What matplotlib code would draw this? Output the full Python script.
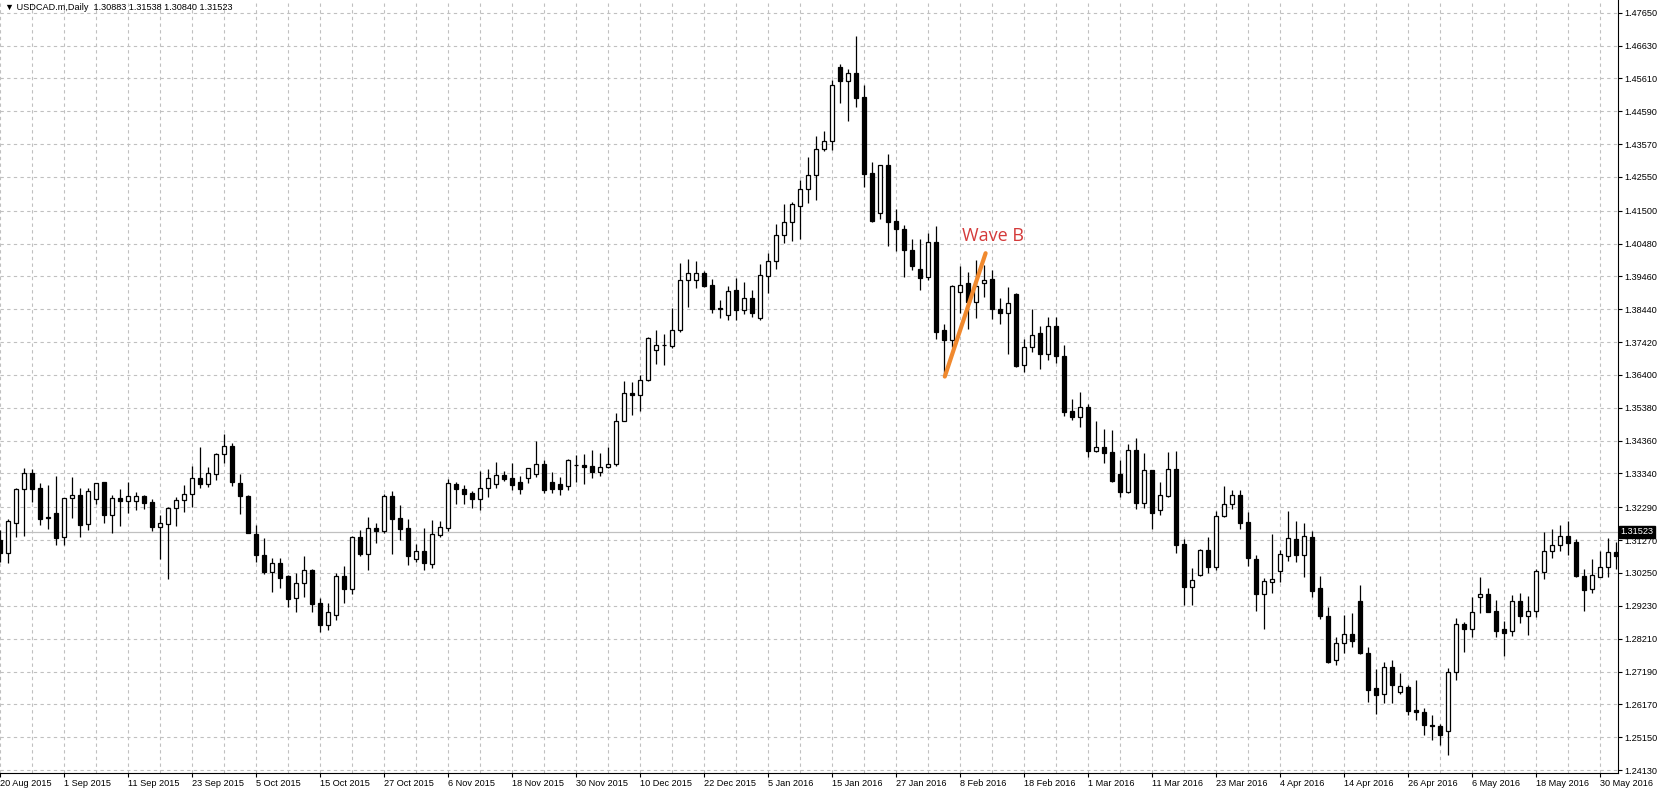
import matplotlib.pyplot as plt
import numpy as np

plt.rcParams['font.family'] = ['Liberation Sans', 'DejaVu Sans']

# USDCAD daily bars, one entry per bar
opens = [
    1.3127, 1.3086, 1.3179, 1.3285, 1.3335, 1.3289, 1.3199, 1.3210, 1.3136, 1.3257,
    1.3266, 1.3176, 1.3254, 1.3307, 1.3204, 1.3257, 1.3248, 1.3248, 1.3263, 1.3244,
    1.3169, 1.3178, 1.3226, 1.3251, 1.3269, 1.3319, 1.3300, 1.3332, 1.3394, 1.3419,
    1.3304, 1.3263, 1.3145, 1.3081, 1.3029, 1.3055, 1.3015, 1.2948, 1.2993, 1.3034,
    1.2933, 1.2863, 1.2894, 1.3015, 1.2976, 1.3137, 1.3085, 1.3165, 1.3156, 1.3264,
    1.3196, 1.3165, 1.3069, 1.3092, 1.3054, 1.3144, 1.3165, 1.3301, 1.3285, 1.3272,
    1.3256, 1.3288, 1.3301, 1.3328, 1.3320, 1.3308, 1.3320, 1.3332, 1.3363, 1.3308,
    1.3301, 1.3295, 1.3359, 1.3361, 1.3356, 1.3340, 1.3353, 1.3364, 1.3496, 1.3583,
    1.3577, 1.3624, 1.3717, 1.3732, 1.3731, 1.3779, 1.3934, 1.3934, 1.3956, 1.3918,
    1.3848, 1.3825, 1.3903, 1.3842, 1.3879, 1.3817, 1.3948, 1.3994, 1.4074, 1.4114,
    1.4164, 1.4217, 1.4260, 1.4341, 1.4365, 1.4596, 1.4554, 1.4577, 1.4502, 1.4266,
    1.4142, 1.4291, 1.4117, 1.4092, 1.4028, 1.3968, 1.3945, 1.4052, 1.3779, 1.3749,
    1.3897, 1.3925, 1.3867, 1.3925, 1.3937, 1.3844, 1.3831, 1.3892, 1.3670, 1.3726,
    1.3771, 1.3704, 1.3792, 1.3699, 1.3528, 1.3508, 1.3540, 1.3405, 1.3415, 1.3401,
    1.3332, 1.3277, 1.3406, 1.3243, 1.3345, 1.3221, 1.3264, 1.3348, 1.3114, 1.2980,
    1.3019, 1.3095, 1.3042, 1.3203, 1.3238, 1.3266, 1.3183, 1.3068, 1.2961, 1.2996,
    1.3030, 1.3077, 1.3130, 1.3082, 1.3137, 1.2978, 1.2890, 1.2754, 1.2808, 1.2834,
    1.2937, 1.2775, 1.2667, 1.2648, 1.2732, 1.2654, 1.2670, 1.2599, 1.2592, 1.2552,
    1.2549, 1.2534, 1.2718, 1.2865, 1.2850, 1.2949, 1.2959, 1.2907, 1.2850, 1.2844,
    1.2937, 1.2890, 1.2906, 1.3029, 1.3092, 1.3111, 1.3140, 1.3121, 1.3017, 1.2974,
    1.3013, 1.3044, 1.3089,
]
highs = [
    1.3158, 1.3192, 1.3290, 1.3351, 1.3347, 1.3304, 1.3297, 1.3326, 1.3257, 1.3322,
    1.3288, 1.3288, 1.3305, 1.3307, 1.3266, 1.3286, 1.3308, 1.3277, 1.3268, 1.3254,
    1.3204, 1.3229, 1.3262, 1.3297, 1.3356, 1.3416, 1.3353, 1.3397, 1.3458, 1.3428,
    1.3332, 1.3266, 1.3173, 1.3133, 1.3070, 1.3071, 1.3018, 1.3024, 1.3078, 1.3036,
    1.2947, 1.2931, 1.3026, 1.3047, 1.3140, 1.3158, 1.3199, 1.3181, 1.3269, 1.3281,
    1.3236, 1.3193, 1.3115, 1.3165, 1.3189, 1.3185, 1.3317, 1.3308, 1.3297, 1.3281,
    1.3342, 1.3347, 1.3370, 1.3342, 1.3367, 1.3326, 1.3352, 1.3435, 1.3376, 1.3339,
    1.3323, 1.3378, 1.3391, 1.3395, 1.3407, 1.3397, 1.3416, 1.3521, 1.3621, 1.3618,
    1.3640, 1.3757, 1.3780, 1.3768, 1.3848, 1.3989, 1.3999, 1.3994, 1.3964, 1.3938,
    1.3873, 1.3917, 1.3942, 1.3929, 1.3904, 1.3984, 1.4019, 1.4109, 1.4171, 1.4176,
    1.4246, 1.4318, 1.4382, 1.4398, 1.4556, 1.4607, 1.4591, 1.4693, 1.4541, 1.4301,
    1.4291, 1.4325, 1.4154, 1.4107, 1.4061, 1.4061, 1.4080, 1.4102, 1.3798, 1.3918,
    1.3978, 1.3960, 1.3996, 1.3981, 1.3966, 1.3878, 1.3912, 1.3895, 1.3752, 1.3846,
    1.3792, 1.3821, 1.3821, 1.3733, 1.3565, 1.3586, 1.3549, 1.3496, 1.3471, 1.3468,
    1.3376, 1.3426, 1.3444, 1.3398, 1.3345, 1.3308, 1.3402, 1.3404, 1.3129, 1.3039,
    1.3098, 1.3137, 1.3217, 1.3294, 1.3283, 1.3283, 1.3214, 1.3082, 1.3008, 1.3146,
    1.3096, 1.3217, 1.3186, 1.3181, 1.3155, 1.3016, 1.2919, 1.2825, 1.2895, 1.2901,
    1.2988, 1.2794, 1.2726, 1.2749, 1.2754, 1.2715, 1.2678, 1.2693, 1.2605, 1.2583,
    1.2555, 1.2729, 1.2884, 1.2872, 1.2949, 1.3012, 1.2977, 1.2940, 1.2876, 1.2957,
    1.2962, 1.2953, 1.3037, 1.3151, 1.3162, 1.3174, 1.3186, 1.3129, 1.3036, 1.3067,
    1.3092, 1.3133, 1.3121,
]
lows = [
    1.3059, 1.3057, 1.3138, 1.3141, 1.3246, 1.3174, 1.3162, 1.3113, 1.3113, 1.3197,
    1.3136, 1.3159, 1.3239, 1.3181, 1.3150, 1.3172, 1.3212, 1.3221, 1.3225, 1.3156,
    1.3069, 1.3007, 1.3172, 1.3215, 1.3231, 1.3288, 1.3293, 1.3313, 1.3368, 1.3296,
    1.3209, 1.3148, 1.3060, 1.3022, 1.2966, 1.2977, 1.2919, 1.2903, 1.2950, 1.2903,
    1.2841, 1.2847, 1.2878, 1.2933, 1.2961, 1.3078, 1.3034, 1.3117, 1.3150, 1.3084,
    1.3128, 1.3050, 1.3060, 1.3035, 1.3041, 1.3138, 1.3154, 1.3240, 1.3239, 1.3228,
    1.3221, 1.3262, 1.3288, 1.3311, 1.3283, 1.3270, 1.3305, 1.3324, 1.3273, 1.3273,
    1.3267, 1.3283, 1.3308, 1.3301, 1.3320, 1.3326, 1.3350, 1.3358, 1.3496, 1.3515,
    1.3529, 1.3621, 1.3675, 1.3672, 1.3725, 1.3774, 1.3852, 1.3911, 1.3914, 1.3833,
    1.3816, 1.3811, 1.3811, 1.3828, 1.3821, 1.3811, 1.3895, 1.3970, 1.4049, 1.4057,
    1.4063, 1.4175, 1.4184, 1.4334, 1.4339, 1.4485, 1.4429, 1.4473, 1.4224, 1.4114,
    1.4125, 1.4041, 1.4026, 1.3945, 1.3965, 1.3903, 1.3935, 1.3752, 1.3634, 1.3728,
    1.3833, 1.3783, 1.3818, 1.3881, 1.3813, 1.3798, 1.3704, 1.3665, 1.3650, 1.3712,
    1.3660, 1.3686, 1.3678, 1.3513, 1.3500, 1.3479, 1.3384, 1.3401, 1.3367, 1.3309,
    1.3260, 1.3273, 1.3225, 1.3227, 1.3162, 1.3205, 1.3260, 1.3088, 1.2925, 1.2925,
    1.3016, 1.3024, 1.3034, 1.3200, 1.3223, 1.3162, 1.3046, 1.2907, 1.2851, 1.2962,
    1.2998, 1.3063, 1.3060, 1.3013, 1.2949, 1.2881, 1.2745, 1.2740, 1.2777, 1.2794,
    1.2774, 1.2625, 1.2587, 1.2622, 1.2620, 1.2648, 1.2583, 1.2567, 1.2522, 1.2506,
    1.2491, 1.2460, 1.2694, 1.2780, 1.2827, 1.2902, 1.2903, 1.2827, 1.2768, 1.2830,
    1.2871, 1.2833, 1.2889, 1.3007, 1.3072, 1.3094, 1.3082, 1.3011, 1.2907, 1.2963,
    1.3011, 1.3014, 1.3037,
]
closes = [
    1.3087, 1.3185, 1.3287, 1.3335, 1.3287, 1.3193, 1.3195, 1.3134, 1.3257, 1.3266,
    1.3175, 1.3279, 1.3304, 1.3206, 1.3257, 1.3248, 1.3263, 1.3263, 1.3243, 1.3169,
    1.3179, 1.3226, 1.3251, 1.3269, 1.3319, 1.3300, 1.3335, 1.3394, 1.3419, 1.3307,
    1.3263, 1.3150, 1.3082, 1.3028, 1.3055, 1.3010, 1.2944, 1.2993, 1.3033, 1.2929,
    1.2863, 1.2903, 1.3015, 1.2976, 1.3138, 1.3085, 1.3165, 1.3156, 1.3264, 1.3193,
    1.3162, 1.3078, 1.3092, 1.3057, 1.3145, 1.3167, 1.3304, 1.3285, 1.3269, 1.3256,
    1.3288, 1.3319, 1.3328, 1.3318, 1.3298, 1.3286, 1.3350, 1.3363, 1.3283, 1.3286,
    1.3286, 1.3376, 1.3360, 1.3355, 1.3340, 1.3353, 1.3363, 1.3496, 1.3583, 1.3577,
    1.3624, 1.3754, 1.3732, 1.3732, 1.3779, 1.3934, 1.3956, 1.3956, 1.3917, 1.3846,
    1.3844, 1.3902, 1.3841, 1.3879, 1.3831, 1.3950, 1.3994, 1.4074, 1.4114, 1.4171,
    1.4217, 1.4260, 1.4341, 1.4366, 1.4540, 1.4554, 1.4577, 1.4501, 1.4265, 1.4118,
    1.4291, 1.4116, 1.4092, 1.4027, 1.3979, 1.3942, 1.4052, 1.3774, 1.3749, 1.3916,
    1.3920, 1.3867, 1.3916, 1.3934, 1.3846, 1.3831, 1.3862, 1.3668, 1.3726, 1.3763,
    1.3704, 1.3792, 1.3699, 1.3526, 1.3510, 1.3540, 1.3405, 1.3415, 1.3398, 1.3311,
    1.3277, 1.3406, 1.3243, 1.3345, 1.3212, 1.3266, 1.3348, 1.3113, 1.2982, 1.3002,
    1.3095, 1.3042, 1.3201, 1.3238, 1.3266, 1.3181, 1.3070, 1.2960, 1.3001, 1.3007,
    1.3084, 1.3133, 1.3082, 1.3139, 1.2970, 1.2892, 1.2750, 1.2808, 1.2837, 1.2813,
    1.2777, 1.2662, 1.2647, 1.2732, 1.2676, 1.2673, 1.2597, 1.2592, 1.2553, 1.2550,
    1.2522, 1.2719, 1.2865, 1.2850, 1.2905, 1.2959, 1.2905, 1.2846, 1.2840, 1.2937,
    1.2892, 1.2906, 1.3030, 1.3092, 1.3112, 1.3140, 1.3119, 1.3016, 1.2973, 1.3018,
    1.3045, 1.3089, 1.3077,
]

date_labels = ['20 Aug 2015', '1 Sep 2015', '11 Sep 2015', '23 Sep 2015', '5 Oct 2015',
               '15 Oct 2015', '27 Oct 2015', '6 Nov 2015', '18 Nov 2015', '30 Nov 2015',
               '10 Dec 2015', '22 Dec 2015', '5 Jan 2016', '15 Jan 2016', '27 Jan 2016',
               '8 Feb 2016', '18 Feb 2016', '1 Mar 2016', '11 Mar 2016', '23 Mar 2016',
               '4 Apr 2016', '14 Apr 2016', '26 Apr 2016', '6 May 2016', '18 May 2016',
               '30 May 2016']
bars_per_label = 8
price_ticks = [1.47650, 1.46630, 1.45610, 1.44590, 1.43570, 1.42550, 1.41500, 1.40480,
               1.39460, 1.38440, 1.37420, 1.36400, 1.35380, 1.34360, 1.33340, 1.32290,
               1.31270, 1.30250, 1.29230, 1.28210, 1.27190, 1.26170, 1.25150, 1.24130]
last_price = 1.31523
header = '\u25bc USDCAD.m,Daily  1.30883 1.31538 1.30840 1.31523'

# hand-drawn wave line and its label
wave_b_bars = [118.1, 123.2]
wave_b_prices = [1.3635, 1.4018]
wave_b_text_bar = 120.3
wave_b_text_price = 1.4071

W, H = 1662, 793
fig = plt.figure(figsize=(W / 100, H / 100), dpi=100)
ax = fig.add_axes([0, 20 / H, 1618 / W, 773 / H])

x = np.arange(len(opens))
o, hi, lo, c = (np.array(v) for v in (opens, highs, lows, closes))
up = c >= o

ax.vlines(x, lo, hi, color='black', linewidth=0.9, zorder=2)
ax.bar(x[up], (c - o)[up], bottom=o[up], width=0.5, facecolor='white',
       edgecolor='black', linewidth=0.9, zorder=3)
ax.bar(x[~up], (o - c)[~up], bottom=c[~up], width=0.5, facecolor='black',
       edgecolor='black', linewidth=0.9, zorder=3)

ax.axhline(last_price, color='#c0c0c0', linewidth=0.9, zorder=1)

ax.plot(wave_b_bars, wave_b_prices, color='#f0892e', linewidth=3,
        solid_capstyle='round', zorder=4)
ax.text(wave_b_text_bar, wave_b_text_price, 'Wave B', color='#d43a3a',
        fontsize=13, family=['Open Sans', 'DejaVu Sans'], va='center', ha='left', zorder=5)

ax.set_xlim(0, 202.25)
ax.set_ylim(1.24038, 1.48044)

# axes: right price scale, bottom date scale
ax.yaxis.tick_right()
ax.set_yticks(price_ticks)
ax.set_yticklabels([f'{p:.5f}' for p in price_ticks])
ax.set_xticks(np.arange(len(date_labels)) * bars_per_label)
ax.set_xticklabels(date_labels)
ax.set_xticks(np.arange(0, len(opens), 4), minor=True)
for lbl in ax.get_xticklabels():
    lbl.set_ha('left')
ax.tick_params(axis='both', which='major', labelsize=6.6, length=3, width=0.8, pad=1.5,
               colors='black')
ax.tick_params(axis='x', which='minor', length=0)

ax.grid(True, which='major', axis='y', color='#c0c0c0', linestyle=(0, (3, 3)), linewidth=0.8)
ax.grid(True, which='both', axis='x', color='#c0c0c0', linestyle=(0, (3, 3)), linewidth=0.8)
ax.set_axisbelow(True)

for side in ('left', 'top'):
    ax.spines[side].set_visible(False)
for side in ('right', 'bottom'):
    ax.spines[side].set_color('black')
    ax.spines[side].set_linewidth(0.8)

ax.text(1.0015, last_price, f'{last_price:.5f}', transform=ax.get_yaxis_transform(),
        fontsize=6.6, color='white', va='center', ha='left', zorder=6,
        bbox=dict(boxstyle='square,pad=0.15', facecolor='black', edgecolor='black'))

fig.text(5 / W, 1 - 8 / H, header, fontsize=6.6, va='center', ha='left')

fig.savefig('out.png', dpi=100)
